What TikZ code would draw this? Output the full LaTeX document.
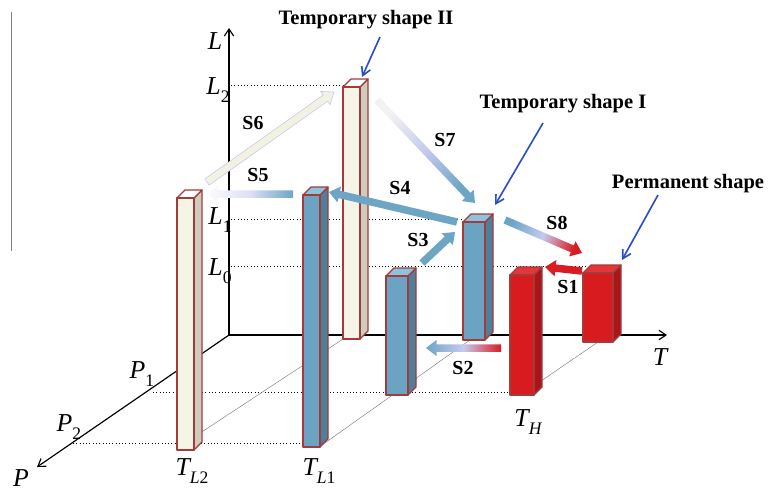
\documentclass[tikz,border=0pt]{standalone}
\usepackage{fontspec}
\setmainfont{Liberation Serif}
\usetikzlibrary{positioning,arrows.meta,calc}
\definecolor{creamF}{HTML}{F6F4E6}
\definecolor{creamS}{HTML}{CFCCBE}
\definecolor{creamT}{HTML}{FFFFFF}
\definecolor{blueF}{HTML}{6BA4C3}
\definecolor{blueS}{HTML}{4E7F9B}
\definecolor{blueT}{HTML}{8DC3DC}
\definecolor{redF}{HTML}{D81B1F}
\definecolor{redS}{HTML}{A91518}
\definecolor{redT}{HTML}{E2363A}
\definecolor{edge}{HTML}{A23B3A}
\definecolor{steel}{HTML}{6DA6C5}
\definecolor{lav}{HTML}{C6CAEE}
\definecolor{paper}{HTML}{F2F1E2}
\definecolor{shaftred}{HTML}{D91C22}
\definecolor{callblue}{HTML}{2B4FC4}
\tikzset{
  axis/.style={line width=1pt, -{Straight Barb[length=6pt,width=8pt]}},
  guide/.style={dotted, line width=0.8pt},
  floorline/.style={gray, line width=0.4pt},
  barface/.style={draw=edge, line width=1.1pt, line join=round},
  callout/.style={callblue, line width=1.4pt, -{Straight Barb[length=7pt,width=8pt]}},
  axlabel/.style={font=\fontsize{22}{24}\selectfont\itshape, inner sep=0pt},
  slabel/.style={font=\fontsize{17}{19}\selectfont\bfseries, inner sep=0pt},
  calllabel/.style={font=\fontsize{17.5}{19}\selectfont\bfseries, inner sep=0pt},
  creamarrow/.style={top color=paper, bottom color=paper, draw=lav, line width=0.5pt},
  bluearrow/.style={top color=steel, bottom color=steel},
  redarrow/.style={top color=shaftred, bottom color=shaftred},
  fadeblue/.style={bottom color=steel, top color=white!95!lav, middle color=lav!60},
  toblue/.style={bottom color=white!90!gray, top color=steel, middle color=lav},
  bluered/.style={bottom color=steel, top color=shaftred, middle color=lav},
  redblue/.style={bottom color=shaftred, top color=steel, middle color=lav}
}
\newcommand\subs[1]{\raisebox{-0.3em}{\fontsize{15}{15}\selectfont #1}}
\newcommand\shapebar[6]{%
  \draw[barface, fill=#6S] (#3,#5) -- (#3,#4) -- ++(8,-8) -- (#3+8,#5-8) -- cycle;
  \draw[barface, fill=#6T] (#2,#4) -- (#3,#4) -- ++(8,-8) -- (#2+8,#4-8) -- cycle;
  \draw[barface, fill=#6F] (#2,#4) rectangle (#3,#5);
  \coordinate (#1) at (#2,#4);
}
\newcommand\fatarrow[3]{%
  \coordinate (fa-c) at ($(#2)!9pt!(#1)$);
  \pgfpointdiff{\pgfpointanchor{#1}{center}}{\pgfpointanchor{#2}{center}}%
  \pgfgetlastxy{\fadx}{\fady}%
  \pgfmathsetmacro{\faang}{atan2(\fady,\fadx)-90}%
  \path[#3, shading angle=\faang]
    ($(#1)!3.2pt!90:(#2)$) -- ($(fa-c)!3.2pt!90:(#2)$) -- ($(fa-c)!7pt!90:(#2)$) -- (#2)
    -- ($(fa-c)!7pt!-90:(#2)$) -- ($(fa-c)!3.2pt!-90:(#2)$) -- ($(#1)!3.2pt!-90:(#2)$) -- cycle;
}

\begin{document}
\begin{tikzpicture}[x=0.03cm, y=-0.03cm]
  \useasboundingbox (0,0) rectangle (768,492);
  \draw[gray, line width=0.8pt] (11,12) -- (11,251);

  \coordinate (O) at (229,335);
  \coordinate (Lend) at (229,28);
  \coordinate (Tend) at (667,335);
  \coordinate (Pend) at (37,467);
  \draw[guide] (231,85) -- (343,85);
  \draw[guide] (231,219) -- (463,219);
  \draw[guide] (231,266) -- (590,266);
  \draw[guide] (153,392) -- (510,392);
  \draw[guide] (73,443) -- (305,443);
  \draw[floorline] (185,443) -- (343,339);
  \draw[floorline] (322,445) -- (470,340);
  \draw[floorline] (525,392) -- (598,342);
  \draw[axis] (O) -- (Lend);
  \draw[axis] (O) -- (Tend);
  \draw[axis] (O) -- (Pend);

  \node[axlabel] (L) at (215,41) {L};
  \node[axlabel] (T) at (660,357) {T};
  \node[axlabel] (P) at (21,478) {P};
  \node[axlabel] (L2) at (218,90) {L\subs{\upshape 2}};
  \node[axlabel] (L1) at (220,220) {L\subs{\upshape 1}};
  \node[axlabel] (L0) at (220,271) {L\subs{\upshape 0}};
  \node[axlabel] (P1) at (142,374) {P\subs{\upshape 1}};
  \node[axlabel] (P2) at (69,427) {P\subs{\upshape 2}};
  \node[axlabel] (TL2) at (192,471) {T\subs{L\upshape 2}};
  \node[axlabel] (TL1) at (319,471) {T\subs{L\upshape 1}};
  \node[axlabel] (TH) at (528,422) {T\subs{H}};

  \shapebar{tempII}{343}{360}{87}{339}{cream}
  \shapebar{tempI}{463}{485}{222}{340}{blue}
  \shapebar{perm}{583}{613}{273}{342}{red}
  \shapebar{lowblue}{386}{408}{276}{395}{blue}
  \shapebar{hot}{510}{534}{275}{395}{red}
  \shapebar{coldII}{177}{194}{198}{450}{cream}
  \shapebar{coldI}{303}{320}{195}{447}{blue}

  \coordinate (s1a) at (582,271); \coordinate (s1b) at (545,267);
  \coordinate (s2a) at (501,348); \coordinate (s2b) at (426,348);
  \coordinate (s3a) at (422,263); \coordinate (s3b) at (455,232);
  \coordinate (s4a) at (457,222); \coordinate (s4b) at (329,192);
  \coordinate (s5a) at (293,194); \coordinate (s5b) at (207,194);
  \coordinate (s6a) at (207,182); \coordinate (s6b) at (334,92);
  \coordinate (s7a) at (377,100); \coordinate (s7b) at (475,203);
  \coordinate (s8a) at (505,220); \coordinate (s8b) at (582,253);
  \fatarrow{s6a}{s6b}{creamarrow}
  \fatarrow{s5a}{s5b}{fadeblue}
  \fatarrow{s4a}{s4b}{bluearrow}
  \fatarrow{s7a}{s7b}{toblue}
  \fatarrow{s3a}{s3b}{bluearrow}
  \fatarrow{s8a}{s8b}{bluered}
  \fatarrow{s1a}{s1b}{redarrow}
  \fatarrow{s2a}{s2b}{redblue}
  \node[slabel] (S1) at (568,287) {S1};
  \node[slabel] (S2) at (463,368) {S2};
  \node[slabel] (S3) at (418,240) {S3};
  \node[slabel] (S4) at (400,188) {S4};
  \node[slabel] (S5) at (258,175) {S5};
  \node[slabel] (S6) at (253,123) {S6};
  \node[slabel] (S7) at (445,140) {S7};
  \node[slabel] (S8) at (557,223) {S8};

  \node[calllabel] (nameII) at (366,20) {Temporary shape II};
  \node[calllabel] (nameI) at (563,104) {Temporary shape I};
  \node[calllabel] (namePerm) at (688,184) {Permanent shape};
  \coordinate (cIIa) at (380,37); \coordinate (cIIb) at (362,77);
  \coordinate (cIa) at (543,123); \coordinate (cIb) at (495,205);
  \coordinate (cPa) at (658,195); \coordinate (cPb) at (622,260);
  \draw[callout] (cIIa) -- (cIIb);
  \draw[callout] (cIa) -- (cIb);
  \draw[callout] (cPa) -- (cPb);
\end{tikzpicture}
\end{document}
